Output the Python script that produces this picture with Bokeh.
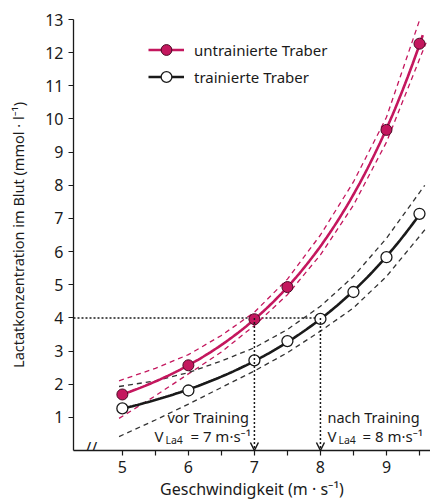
import numpy as np
from bokeh.plotting import figure
from bokeh.models import Range1d, FixedTicker, Label, Legend, LegendItem, Arrow, OpenHead
from bokeh.embed import file_html
from bokeh.resources import INLINE

# ---------------- data ----------------
speed_untrained = [5, 6, 7, 7.5, 9, 9.5]
lactate_untrained = [1.69, 2.57, 3.96, 4.93, 9.67, 12.27]
speed_trained = [5, 6, 7, 7.5, 8, 8.5, 9, 9.5]
lactate_trained = [1.27, 1.81, 2.72, 3.30, 3.97, 4.78, 5.83, 7.14]

curve_untrained_span = [5.0, 9.55]
curve_trained_span = [5.0, 9.55]

band_untrained_upper_x = [4.95, 5.5, 6, 6.5, 7, 7.5, 8, 8.5, 9, 9.53]
band_untrained_upper_y = [2.10, 2.48, 2.89, 3.47, 4.17, 5.17, 6.50, 8.10, 10.05, 13.15]
band_untrained_lower_x = [4.95, 5.5, 6, 6.5, 7, 7.5, 8, 8.5, 9, 9.6]
band_untrained_lower_y = [0.97, 1.65, 2.31, 2.97, 3.77, 4.70, 5.90, 7.40, 9.30, 12.30]
band_trained_upper_x = [4.95, 5.5, 6, 6.5, 7, 7.5, 8, 8.5, 9, 9.58]
band_trained_upper_y = [1.93, 2.10, 2.35, 2.70, 3.10, 3.65, 4.35, 5.25, 6.40, 8.00]
band_trained_lower_x = [4.95, 5.5, 6, 6.5, 7, 7.5, 8, 8.5, 9, 9.62]
band_trained_lower_y = [0.42, 0.92, 1.40, 1.90, 2.40, 2.95, 3.60, 4.30, 5.25, 6.75]

lactate_threshold = 4
v_la4 = [7, 8]
phase_labels = ["vor Training", "nach Training"]

x_ticks = [5, 6, 7, 8, 9]
x_minor_ticks = [5.5, 6.5, 7.5, 8.5, 9.5]
y_ticks = list(range(1, 14))
x_break_position = 4.53

legend_labels = ["untrainierte Traber", "trainierte Traber"]
x_title = "Geschwindigkeit (m · s⁻¹)"
y_title = "Lactatkonzentration im Blut (mmol · l⁻¹)"

# ---------------- styles ----------------
RED = "#C4175E"
BLACK = "#1a1a1a"
FONT = "Noto Sans"

x_range = Range1d(4.26, 9.667)
y_range = Range1d(0, 13)

p = figure(width=430, height=502, x_range=x_range, y_range=y_range,
           output_backend="svg", toolbar_location=None,
           min_border_left=73, min_border_right=0, min_border_top=19, min_border_bottom=52)
p.outline_line_color = None
p.xgrid.visible = False
p.ygrid.visible = False
p.background_fill_color = "white"

for ax in (p.xaxis[0], p.yaxis[0]):
    ax.axis_line_color = BLACK
    ax.axis_line_width = 1.3
    ax.major_tick_line_color = BLACK
    ax.major_tick_line_width = 1.2
    ax.minor_tick_line_color = BLACK
    ax.minor_tick_line_width = 1.2
    ax.major_tick_in = 0
    ax.major_tick_out = 5
    ax.minor_tick_in = 0
    ax.minor_tick_out = 5
    ax.major_label_text_font = FONT
    ax.major_label_text_font_size = "16px"
    ax.major_label_text_color = BLACK
    ax.major_label_standoff = 5
    ax.axis_label_text_font = FONT
    ax.axis_label_text_font_style = "normal"
    ax.axis_label_text_color = BLACK

p.xaxis[0].ticker = FixedTicker(ticks=x_ticks, minor_ticks=x_minor_ticks)
p.yaxis[0].ticker = FixedTicker(ticks=y_ticks, minor_ticks=[])
p.xaxis[0].axis_label = x_title
p.xaxis[0].axis_label_text_font_size = "16px"
p.xaxis[0].axis_label_standoff = 2
p.yaxis[0].axis_label = y_title
p.yaxis[0].axis_label_text_font_size = "14.5px"
p.yaxis[0].axis_label_standoff = 14

# ---------------- reference lines (threshold) ----------------
p.segment(x0=[x_range.start], y0=[lactate_threshold], x1=[max(v_la4)], y1=[lactate_threshold],
          line_color=BLACK, line_width=1.5, line_dash="2 2")
for v in v_la4:
    p.add_layout(Arrow(end=OpenHead(size=8, line_width=1.5, line_color=BLACK),
                       x_start=v, y_start=lactate_threshold, x_end=v, y_end=y_range.start,
                       line_color=BLACK, line_width=1.5, line_dash="2 2"))

# ---------------- confidence bands ----------------
p.line(band_untrained_upper_x, band_untrained_upper_y, line_color=RED, line_width=1.3, line_dash="5 4")
p.line(band_untrained_lower_x, band_untrained_lower_y, line_color=RED, line_width=1.3, line_dash="5 4")
p.line(band_trained_upper_x, band_trained_upper_y, line_color="#333333", line_width=1.3, line_dash="5 4")
p.line(band_trained_lower_x, band_trained_lower_y, line_color="#333333", line_width=1.3, line_dash="5 4")

# ---------------- fitted curves ----------------
def fitted(xd, yd, span):
    coeffs = np.polyfit(np.array(xd, float), np.log(np.array(yd, float)), 2)
    xs = np.linspace(span[0], span[1], 120)
    return xs, np.exp(np.polyval(coeffs, xs))

xu, yu = fitted(speed_untrained, lactate_untrained, curve_untrained_span)
xt, yt = fitted(speed_trained, lactate_trained, curve_trained_span)
line_u = p.line(xu, yu, line_color=RED, line_width=2.6)
line_t = p.line(xt, yt, line_color=BLACK, line_width=2.6)

pts_u = p.scatter(speed_untrained, lactate_untrained, size=11, fill_color=RED,
                  line_color="#4a0a24", line_width=1)
pts_t = p.scatter(speed_trained, lactate_trained, size=11, fill_color="white",
                  line_color=BLACK, line_width=1.3)

# ---------------- legend ----------------
legend = Legend(items=[LegendItem(label=legend_labels[0], renderers=[line_u, pts_u]),
                       LegendItem(label=legend_labels[1], renderers=[line_t, pts_t])],
                location=(75, 360), glyph_width=36, glyph_height=27, label_height=27,
                label_standoff=10, padding=0, spacing=0, margin=0,
                border_line_alpha=0, background_fill_alpha=0,
                label_text_font=FONT, label_text_font_size="15px", label_text_color=BLACK)
p.add_layout(legend)

# ---------------- annotations ----------------
def add_text(x, y, text, size="14.5px", xo=0, yo=0, align="left", baseline="middle", angle=0):
    p.add_layout(Label(x=x, y=y, text=text, x_offset=xo, y_offset=yo, angle=angle,
                       text_font=FONT, text_font_size=size, text_color=BLACK,
                       text_align=align, text_baseline=baseline))

offsets = [(-87, -100, -89, -64), (7, 7, 18, 42)]
for v, lab, (o_lab, o_v, o_sub, o_eq) in zip(v_la4, phase_labels, offsets):
    add_text(v, 1.0, lab, xo=o_lab)
    add_text(v, 0.45, "V", xo=o_v, size="15px")
    add_text(v, 0.45, "La4", xo=o_sub, yo=-4, size="10.5px")
    add_text(v, 0.45, f"= {v:g} m·s⁻¹", xo=o_eq, size="15px")

# axis break mark (the part below the axis line is cut by the plot frame)
add_text(x_break_position, 0, "//", size="16px", align="center", baseline="middle", yo=3)

open("out.html", "w").write(file_html(p, INLINE))
